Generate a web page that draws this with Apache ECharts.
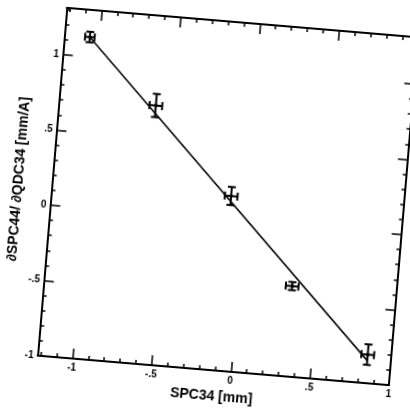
<!DOCTYPE html>
<html>
<head>
<meta charset="utf-8">
<script src="https://cdn.jsdelivr.net/npm/echarts@6/dist/echarts.min.js"></script>
<style>
html,body{margin:0;padding:0;background:#fff;overflow:hidden;width:410px;height:409px;}
#c{width:410px;height:409px;transform-origin:228px 197.5px;transform:rotate(4.8deg);background:#fff;}
</style>
</head>
<body>
<div id="c"></div>
<script>
// measured points
const xVals = [-1.06, -0.61, -0.09, 0.34, 0.85];
const yVals = [1.13, 0.715, 0.16, -0.40, -0.81];
const xErr = [0.03, 0.04, 0.04, 0.04, 0.04];
const yErr = [0.035, 0.077, 0.06, 0.027, 0.068];
// fitted line end points
const fitX = [-1.06, 0.85];
const fitY = [1.13, -0.85];
// ticks
const xMajor = [-1, -0.5, 0, 0.5, 1];
const xMinor = [-1.2, -1.1, -0.9, -0.8, -0.7, -0.6, -0.4, -0.3, -0.2, -0.1, 0.1, 0.2, 0.3, 0.4, 0.6, 0.7, 0.8, 0.9];
const yMajor = [-1, -0.5, 0, 0.5, 1];
const yMinor = [-0.9, -0.8, -0.7, -0.6, -0.4, -0.3, -0.2, -0.1, 0.1, 0.2, 0.3, 0.4, 0.6, 0.7, 0.8, 0.9, 1.1, 1.2, 1.3];

const X_MIN = -1.22, X_MAX = 1, Y_MIN = -1, Y_MAX = 1.31;

function fmt(v){
  if (Math.abs(v) < 1e-9) return '0';
  const s = String(Math.abs(v)).replace(/^0/, '');
  return (v < 0 ? '-' : '') + s;
}

const lineStyle = {color:'#000', width:2};
const tickFont = {fontFamily:'Liberation Sans', fontSize:10, fontWeight:'bold', color:'#000'};
function xAx(pos, vals, len, labels, showLine){
  return {
    type:'value', position:pos, min:X_MIN, max:X_MAX, gridIndex:0,
    axisLine:{show:showLine, onZero:false, lineStyle:lineStyle},
    axisTick:{show:true, inside:true, length:len, customValues:vals, lineStyle:{color:'#000', width:1.5}},
    axisLabel:labels ? Object.assign({show:true, customValues:xMajor, formatter:fmt, margin:4}, tickFont) : {show:false},
    splitLine:{show:false}
  };
}
function yAx(pos, vals, len, labels, showLine){
  return {
    type:'value', position:pos, min:Y_MIN, max:Y_MAX, gridIndex:0,
    axisLine:{show:showLine, onZero:false, lineStyle:lineStyle},
    axisTick:{show:true, inside:true, length:len, customValues:vals, lineStyle:{color:'#000', width:1.5}},
    axisLabel:labels ? Object.assign({show:true, customValues:yMajor, formatter:fmt, margin:4}, tickFont) : {show:false},
    splitLine:{show:false}
  };
}

const xAxes = [
  xAx('bottom', xMajor, 10, true, true),
  xAx('bottom', xMinor, 4, false, false),
  xAx('top', xMajor, 10, false, true),
  xAx('top', xMinor, 4, false, false)
];
xAxes[0].name = 'SPC34 [mm]';
xAxes[0].nameLocation = 'middle';
xAxes[0].nameGap = 17;
xAxes[0].nameTextStyle = {fontFamily:'Liberation Sans', fontWeight:'bold', fontSize:14, color:'#000'};

const yAxes = [
  yAx('left', yMajor, 10, true, true),
  yAx('left', yMinor, 4, false, false),
  yAx('right', yMajor, 10, false, true),
  yAx('right', yMinor, 4, false, false)
];
yAxes[0].name = '\u2202SPC44/ \u2202QDC34 [mm/A]';
yAxes[0].nameLocation = 'middle';
yAxes[0].nameGap = 25;
yAxes[0].nameTextStyle = {fontFamily:'Liberation Sans', fontWeight:'bold', fontSize:14, color:'#000'};

const errData = xVals.map((x, i) => [x, yVals[i], xErr[i], yErr[i]]);

const chart = echarts.init(document.getElementById('c'), null, {renderer:'canvas'});
chart.setOption({
  animation:false,
  backgroundColor:'#fff',
  grid:{left:51.5, top:22, width:353, height:351, containLabel:false},
  xAxis:xAxes,
  yAxis:yAxes,
  series:[
    {
      type:'line', xAxisIndex:0, yAxisIndex:0,
      data:fitX.map((x, i) => [x, fitY[i]]),
      showSymbol:false, symbol:'none',
      lineStyle:{color:'#000', width:1.6}
    },
    {
      type:'custom', xAxisIndex:0, yAxisIndex:0,
      data:errData,
      renderItem:function(params, api){
        const x = api.value(0), y = api.value(1), ex = api.value(2), ey = api.value(3);
        const c = api.coord([x, y]);
        const l = api.coord([x - ex, y]);
        const r = api.coord([x + ex, y]);
        const t = api.coord([x, y + ey]);
        const b = api.coord([x, y - ey]);
        const cap = 4;
        const st = {stroke:'#000', lineWidth:2, fill:null};
        const line = (x1,y1,x2,y2) => ({type:'line', shape:{x1:x1,y1:y1,x2:x2,y2:y2}, style:st});
        return {type:'group', children:[
          line(l[0], l[1], r[0], r[1]),
          line(t[0], t[1], b[0], b[1]),
          line(l[0], l[1]-cap, l[0], l[1]+cap),
          line(r[0], r[1]-cap, r[0], r[1]+cap),
          line(t[0]-cap, t[1], t[0]+cap, t[1]),
          line(b[0]-cap, b[1], b[0]+cap, b[1]),
          {type:'circle', shape:{cx:c[0], cy:c[1], r:1.8}, style:{fill:'#000'}}
        ]};
      }
    }
  ]
});
</script>
</body>
</html>
